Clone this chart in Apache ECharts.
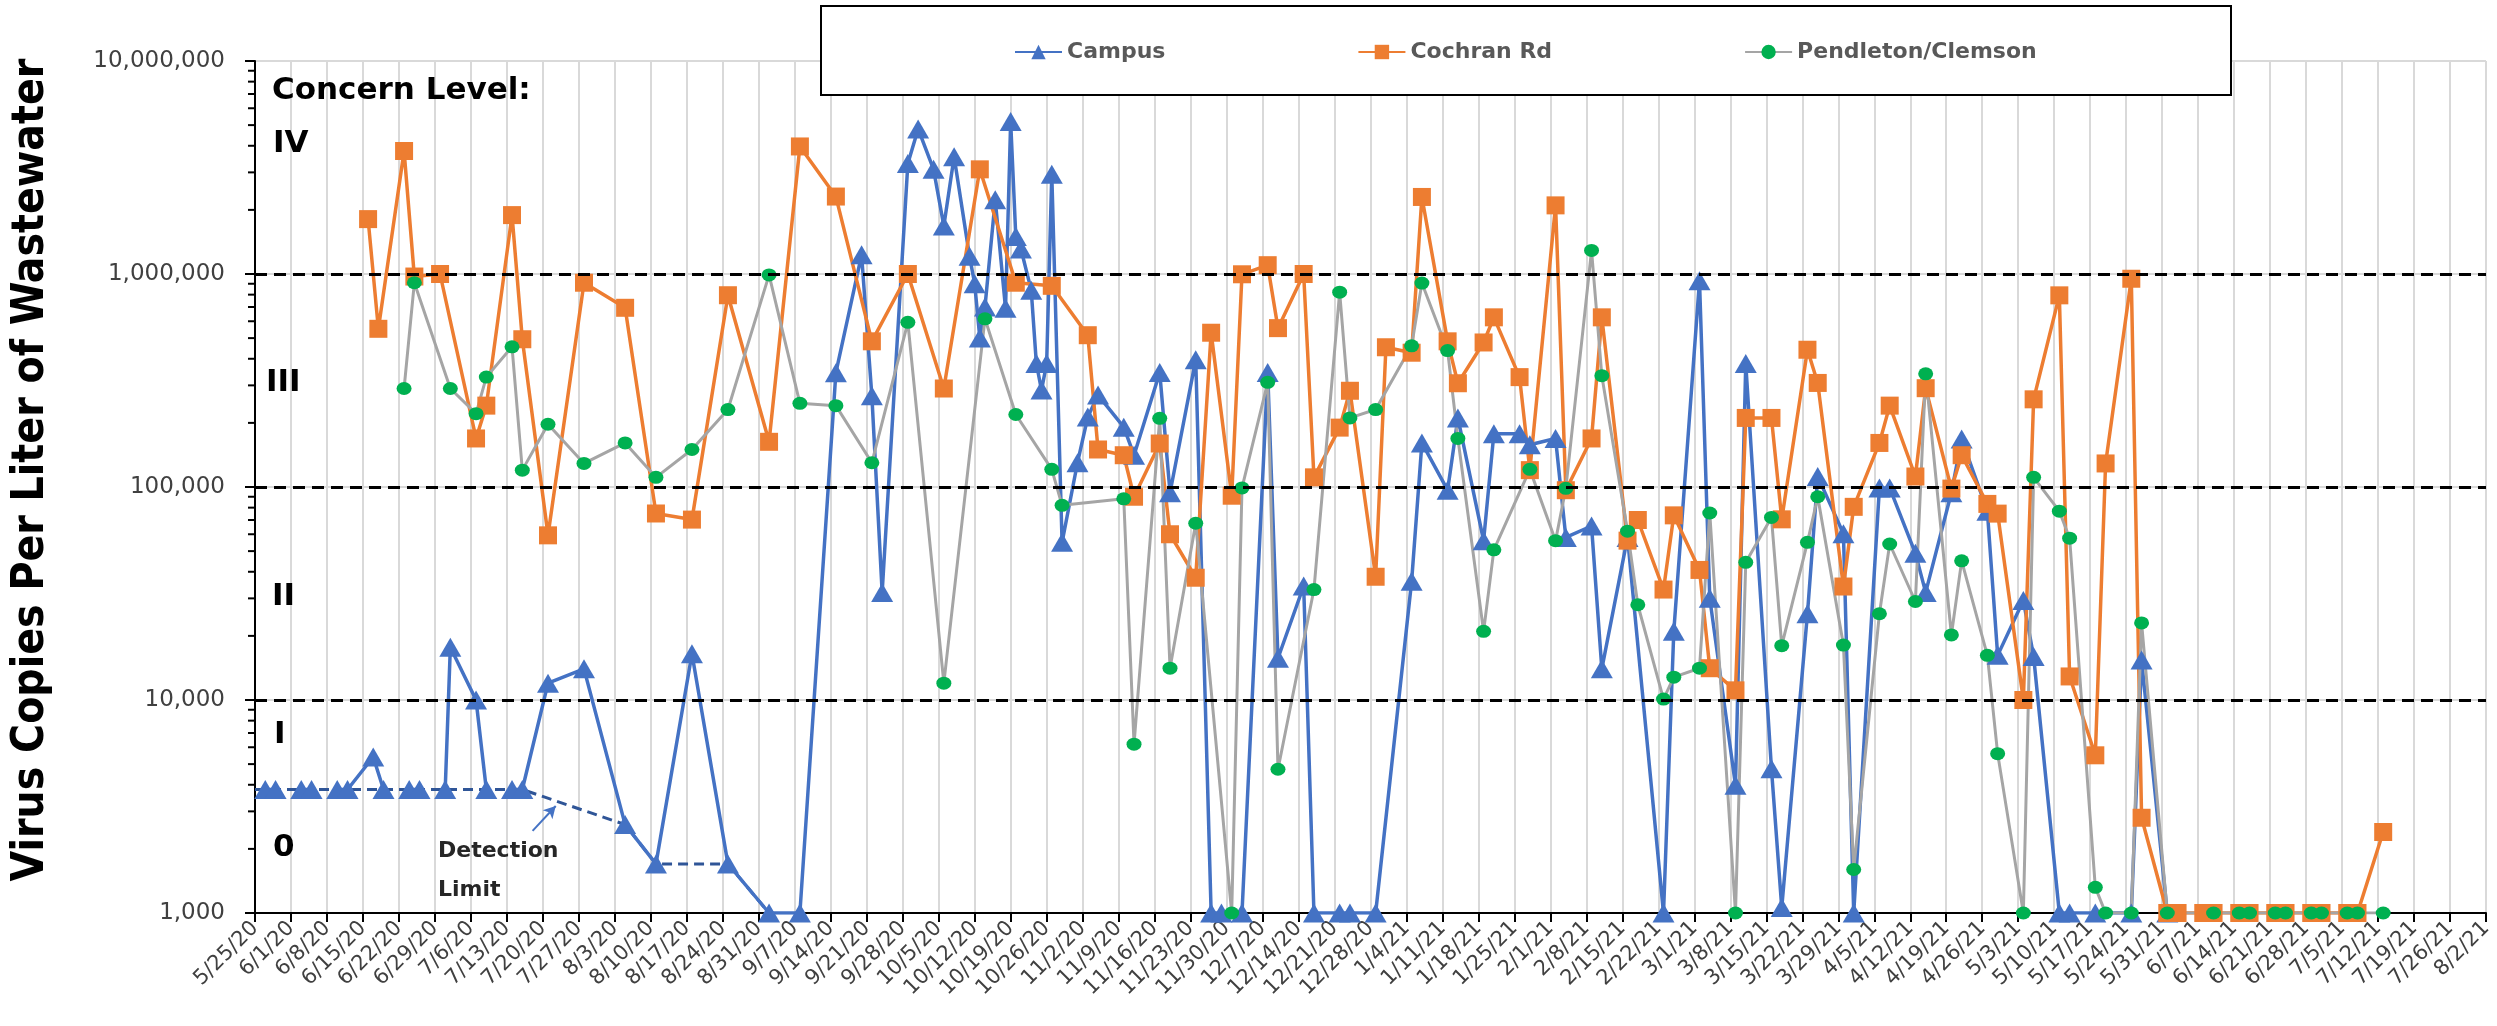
<!DOCTYPE html>
<html>
<head>
<meta charset="utf-8">
<title>Virus Copies Per Liter of Wastewater</title>
<script src="https://cdn.jsdelivr.net/npm/echarts@6/dist/echarts.min.js"></script>
<style>
    html, body { margin: 0; padding: 0; background: #fff; }
    #chart { width: 2497px; height: 1026px; }
</style>
</head>
<body>
<div id="chart"></div>
<script>
    // sample dates (M/D/YY) and virus copies per liter
    var campusDates = ['5/27/20', '5/29/20', '6/3/20', '6/5/20', '6/10/20', '6/12/20', '6/17/20', '6/19/20', '6/24/20', '6/26/20',
        '7/1/20', '7/2/20', '7/7/20', '7/9/20', '7/14/20', '7/16/20', '7/21/20', '7/28/20', '8/5/20', '8/11/20',
        '8/18/20', '8/25/20', '9/2/20', '9/8/20', '9/15/20', '9/20/20', '9/22/20', '9/24/20', '9/29/20', '10/1/20',
        '10/4/20', '10/6/20', '10/8/20', '10/11/20', '10/12/20', '10/13/20', '10/14/20', '10/16/20', '10/18/20', '10/19/20',
        '10/20/20', '10/21/20', '10/23/20', '10/24/20', '10/25/20', '10/26/20', '10/27/20', '10/29/20', '11/1/20', '11/3/20',
        '11/5/20', '11/10/20', '11/12/20', '11/17/20', '11/19/20', '11/24/20', '11/27/20', '11/29/20', '12/3/20', '12/8/20',
        '12/10/20', '12/15/20', '12/17/20', '12/22/20', '12/24/20', '12/29/20', '1/5/21', '1/7/21', '1/12/21', '1/14/21',
        '1/19/21', '1/21/21', '1/26/21', '1/28/21', '2/2/21', '2/4/21', '2/9/21', '2/11/21', '2/16/21', '2/23/21',
        '2/25/21', '3/2/21', '3/4/21', '3/9/21', '3/11/21', '3/16/21', '3/18/21', '3/23/21', '3/25/21', '3/30/21',
        '4/1/21', '4/6/21', '4/8/21', '4/13/21', '4/15/21', '4/20/21', '4/22/21', '4/27/21', '4/29/21', '5/4/21',
        '5/6/21', '5/11/21', '5/13/21', '5/18/21', '5/25/21', '5/27/21', '6/1/21'];
    var campusValues = [3800, 3800, 3800, 3800, 3800, 3800, 5400, 3800, 3800, 3800,
        3800, 17700, 10000, 3800, 3800, 3800, 12000, 14000, 2600, 1700,
        16500, 1700, 1000, 1000, 344000, 1230000, 268000, 32000, 3300000, 4800000,
        3100000, 1680000, 3550000, 1210000, 900000, 500000, 700000, 2230000, 690000, 5200000,
        1500000, 1310000, 840000, 380000, 285000, 380000, 2940000, 55000, 130000, 213000,
        270000, 191000, 141000, 345000, 94000, 396000, 1000, 1000, 1000, 345000,
        15700, 34300, 1000, 1000, 1000, 1000, 36100, 161000, 96600, 211000,
        56000, 178000, 178000, 158000, 169000, 58000, 65600, 14000, 58000, 1000,
        21000, 930000, 30000, 3980, 380000, 4750, 1060, 25400, 112000, 60400,
        1000, 99000, 99000, 48800, 32000, 94000, 168000, 77000, 16200, 29300,
        16000, 1000, 1000, 1000, 1000, 15400, 1000];
    // campus line is not drawn between these samples and the next one
    var campusBreaks = ['5/29/20', '6/5/20', '6/19/20', '6/26/20', '7/9/20'];

    var cochranDates = ['6/16/20', '6/18/20', '6/23/20', '6/25/20', '6/30/20', '7/7/20', '7/9/20', '7/14/20', '7/16/20', '7/21/20',
        '7/28/20', '8/5/20', '8/11/20', '8/18/20', '8/25/20', '9/2/20', '9/8/20', '9/15/20', '9/22/20', '9/29/20',
        '10/6/20', '10/13/20', '10/20/20', '10/27/20', '11/3/20', '11/5/20', '11/10/20', '11/12/20', '11/17/20', '11/19/20',
        '11/24/20', '11/27/20', '12/1/20', '12/3/20', '12/8/20', '12/10/20', '12/15/20', '12/17/20', '12/22/20', '12/24/20',
        '12/29/20', '12/31/20', '1/5/21', '1/7/21', '1/12/21', '1/14/21', '1/19/21', '1/21/21', '1/26/21', '1/28/21',
        '2/2/21', '2/4/21', '2/9/21', '2/11/21', '2/16/21', '2/18/21', '2/23/21', '2/25/21', '3/2/21', '3/4/21',
        '3/9/21', '3/11/21', '3/16/21', '3/18/21', '3/23/21', '3/25/21', '3/30/21', '4/1/21', '4/6/21', '4/8/21',
        '4/13/21', '4/15/21', '4/20/21', '4/22/21', '4/27/21', '4/29/21', '5/4/21', '5/6/21', '5/11/21', '5/13/21',
        '5/18/21', '5/20/21', '5/25/21', '5/27/21', '6/1/21', '6/3/21', '6/8/21', '6/10/21', '6/15/21', '6/17/21',
        '6/22/21', '6/24/21', '6/29/21', '7/1/21', '7/6/21', '7/8/21', '7/13/21'];
    var cochranValues = [1810000, 553000, 3780000, 973000, 1000000, 169000, 241000, 1890000, 494000, 59300,
        910000, 694000, 75100, 70300, 795000, 163000, 3970000, 2310000, 483000, 1000000,
        290000, 3100000, 910000, 880000, 516000, 150000, 141000, 90000, 160000, 60000,
        37500, 530000, 91000, 997000, 1100000, 557000, 1000000, 111000, 190000, 283000,
        37900, 453000, 427000, 2300000, 483000, 307000, 477000, 626000, 328000, 120000,
        2100000, 96600, 169000, 626000, 56000, 70000, 33000, 73600, 40800, 14100,
        11100, 211000, 211000, 70500, 441000, 308000, 34100, 80700, 161000, 241000,
        112000, 291000, 98300, 141000, 83300, 75000, 10000, 258000, 794000, 12900,
        5500, 129000, 950000, 2800, 1000, 1000, 1000, 1000, 1000, 1000,
        1000, 1000, 1000, 1000, 1000, 1000, 2400];

    var pendletonDates = ['6/23/20', '6/25/20', '7/2/20', '7/7/20', '7/9/20', '7/14/20', '7/16/20', '7/21/20', '7/28/20', '8/5/20',
        '8/11/20', '8/18/20', '8/25/20', '9/2/20', '9/8/20', '9/15/20', '9/22/20', '9/29/20', '10/6/20', '10/14/20',
        '10/20/20', '10/27/20', '10/29/20', '11/10/20', '11/12/20', '11/17/20', '11/19/20', '11/24/20', '12/1/20', '12/3/20',
        '12/8/20', '12/10/20', '12/17/20', '12/22/20', '12/24/20', '12/29/20', '1/5/21', '1/7/21', '1/12/21', '1/14/21',
        '1/19/21', '1/21/21', '1/28/21', '2/2/21', '2/4/21', '2/9/21', '2/11/21', '2/16/21', '2/18/21', '2/23/21',
        '2/25/21', '3/2/21', '3/4/21', '3/9/21', '3/11/21', '3/16/21', '3/18/21', '3/23/21', '3/25/21', '3/30/21',
        '4/1/21', '4/6/21', '4/8/21', '4/13/21', '4/15/21', '4/20/21', '4/22/21', '4/27/21', '4/29/21', '5/4/21',
        '5/6/21', '5/11/21', '5/13/21', '5/18/21', '5/20/21', '5/25/21', '5/27/21', '6/1/21', '6/10/21', '6/15/21',
        '6/17/21', '6/22/21', '6/24/21', '6/29/21', '7/1/21', '7/6/21', '7/8/21', '7/13/21'];
    var pendletonValues = [290000, 910000, 290000, 221000, 328000, 455000, 120000, 197000, 129000, 161000,
        111000, 150000, 231000, 990000, 247000, 241000, 130000, 593000, 12000, 616000,
        219000, 121000, 82000, 88000, 6200, 210000, 14100, 67600, 1000, 99000,
        310000, 4730, 33000, 822000, 211000, 231000, 460000, 907000, 437000, 169000,
        21000, 50700, 121000, 56000, 98600, 1290000, 333000, 62000, 28000, 10100,
        12800, 14100, 75500, 1000, 44300, 72000, 18000, 55000, 90000, 18100,
        1600, 25400, 54000, 29000, 340000, 20200, 45000, 16200, 5600, 1000,
        111000, 77000, 57500, 1320, 1000, 1000, 23000, 1000, 1000, 1000,
        1000, 1000, 1000, 1000, 1000, 1000, 1000, 1000];

    var detectionDates = ['5/25/20', '7/16/20', '8/5/20', '8/11/20', '8/25/20', '9/2/20'];
    var detectionValues = [3800, 3800, 2600, 1700, 1700, 1000];

    var concernLines = [10000, 100000, 1000000];
    var concernNames = ['IV', 'III', 'II', 'I', '0'];

    var startDate = Date.UTC(2020, 4, 25);
    var lastDay = 434; // 8/2/21
    var DAY = 86400000;

    function toDay(s) {
        var p = s.split('/');
        return Math.round((Date.UTC(2000 + Number(p[2]), Number(p[0]) - 1, Number(p[1])) - startDate) / DAY);
    }

    function dayLabel(d) {
        var dt = new Date(startDate + d * DAY);
        return (dt.getUTCMonth() + 1) + '/' + dt.getUTCDate() + '/' + (dt.getUTCFullYear() % 100);
    }

    function points(dates, values, breaks) {
        var out = [];
        for (var i = 0; i < dates.length; i++) {
            out.push([toDay(dates[i]), values[i]]);
            if (breaks && breaks.indexOf(dates[i]) >= 0) {
                out.push([toDay(dates[i]) + 1, '-']);
            }
        }
        return out;
    }

    // minor ticks of the log axis (2..9 of each decade)
    var minorTicks = [];
    for (var dec = 1000; dec < 10000000; dec *= 10) {
        for (var k = 2; k < 10; k++) minorTicks.push([0, k * dec]);
    }

    var font = 'DejaVu Sans';
    var bandLabels = [
        {text: concernNames[0], x: 273, y: 144},
        {text: concernNames[1], x: 266, y: 383},
        {text: concernNames[2], x: 272, y: 597},
        {text: concernNames[3], x: 274, y: 735},
        {text: concernNames[4], x: 273, y: 848}
    ];
    var graphics = [
        {
            type: 'rect', z: 15,
            shape: {x: 821, y: 6, width: 1410, height: 89},
            style: {fill: '#fff', stroke: '#000', lineWidth: 2}
        },
        {
            type: 'text', x: 32, y: 470, rotation: Math.PI / 2, z: 15,
            style: {
                text: 'Virus Copies Per Liter of Wastewater',
                font: "bold 44px 'Liberation Sans Narrow', 'DejaVu Sans Condensed', sans-serif",
                fill: '#000', align: 'center', verticalAlign: 'middle'
            }
        },
        {
            type: 'text', x: 272, y: 91, z: 15,
            style: {text: 'Concern Level:', font: 'bold 31px ' + font, fill: '#000', align: 'left', verticalAlign: 'middle'}
        },
        {
            type: 'text', x: 438, y: 851, z: 15,
            style: {text: 'Detection', font: 'bold 22px ' + font, fill: '#262626', align: 'left', verticalAlign: 'middle'}
        },
        {
            type: 'text', x: 438, y: 890, z: 15,
            style: {text: 'Limit', font: 'bold 22px ' + font, fill: '#262626', align: 'left', verticalAlign: 'middle'}
        }
    ];
    bandLabels.forEach(function (b) {
        graphics.push({
            type: 'text', x: b.x, y: b.y, z: 15,
            style: {text: b.text, font: 'bold 31px ' + font, fill: '#000', align: 'left', verticalAlign: 'middle'}
        });
    });

    var option = {
        animation: false,
        backgroundColor: '#fff',
        grid: {left: 255, right: 11, top: 61, bottom: 113},
        legend: {
            data: ['Campus', 'Cochran Rd', 'Pendleton/Clemson'],
            left: 1014, top: 41, z: 20,
            padding: 0, itemGap: 192, itemWidth: 47, itemHeight: 18,
            textStyle: {fontFamily: font, fontWeight: 'bold', fontSize: 22, color: '#595959'}
        },
        xAxis: {
            type: 'value', min: 0, max: lastDay, interval: 7,
            axisLine: {lineStyle: {color: '#000', width: 2}},
            axisTick: {show: true, length: 9, lineStyle: {color: '#000', width: 2}},
            axisLabel: {
                rotate: 45, margin: 12, fontFamily: font, fontSize: 21, color: '#404040',
                formatter: function (v) { return dayLabel(v); }
            },
            splitLine: {show: true, lineStyle: {color: '#d9d9d9', width: 2}}
        },
        yAxis: {
            type: 'log', logBase: 10, min: 1000, max: 10000000,
            axisLine: {show: true, lineStyle: {color: '#000', width: 2}},
            axisTick: {show: true, length: 10, lineStyle: {color: '#000', width: 2}},
            axisLabel: {
                margin: 30, fontFamily: font, fontSize: 23, color: '#404040',
                formatter: function (v) { return String(Math.round(v)).replace(/\B(?=(\d{3})+(?!\d))/g, ','); }
            },
            splitLine: {show: true, lineStyle: {color: '#d9d9d9', width: 2}}
        },
        graphic: graphics,
        series: [
            {
                name: 'Detection Limit',
                type: 'line',
                data: points(detectionDates, detectionValues),
                symbol: 'none',
                lineStyle: {color: '#2F5597', width: 3, type: [10, 6]},
                z: 1,
                markLine: {
                    silent: true,
                    symbol: ['none', 'arrow'],
                    symbolSize: [10, 12],
                    label: {show: false},
                    lineStyle: {color: '#4472C4', width: 2, type: 'solid'},
                    data: [[{coord: [54, 2430]}, {coord: [58.5, 3180]}]]
                }
            },
            {
                name: 'Campus',
                type: 'line',
                data: points(campusDates, campusValues, campusBreaks),
                symbol: 'triangle',
                symbolSize: [22, 19],
                connectNulls: false,
                itemStyle: {color: '#4472C4', borderWidth: 0},
                lineStyle: {color: '#4472C4', width: 3.5}
            },
            {
                name: 'Cochran Rd',
                type: 'line',
                data: points(cochranDates, cochranValues),
                symbol: 'rect',
                symbolSize: [18, 18],
                itemStyle: {color: '#ED7D31', borderWidth: 0},
                lineStyle: {color: '#ED7D31', width: 3.5}
            },
            {
                name: 'Pendleton/Clemson',
                type: 'line',
                data: points(pendletonDates, pendletonValues),
                symbol: 'circle',
                symbolSize: [15, 13],
                itemStyle: {color: '#00B050', borderWidth: 0},
                lineStyle: {color: '#A5A5A5', width: 3},
                markLine: {
                    silent: true,
                    symbol: 'none',
                    label: {show: false},
                    lineStyle: {color: '#000', width: 3, type: [12, 7]},
                    data: concernLines.map(function (v) { return {yAxis: v}; })
                }
            },
            {
                name: 'minor ticks',
                type: 'custom',
                clip: false,
                silent: true,
                data: minorTicks,
                renderItem: function (params, api) {
                    var p = api.coord([0, api.value(1)]);
                    return {
                        type: 'line',
                        shape: {x1: p[0] - 7, y1: p[1], x2: p[0], y2: p[1]},
                        style: {stroke: '#000', lineWidth: 2}
                    };
                }
            }
        ]
    };

    var chart = echarts.init(document.getElementById('chart'));
    chart.setOption(option);
</script>
</body>
</html>
